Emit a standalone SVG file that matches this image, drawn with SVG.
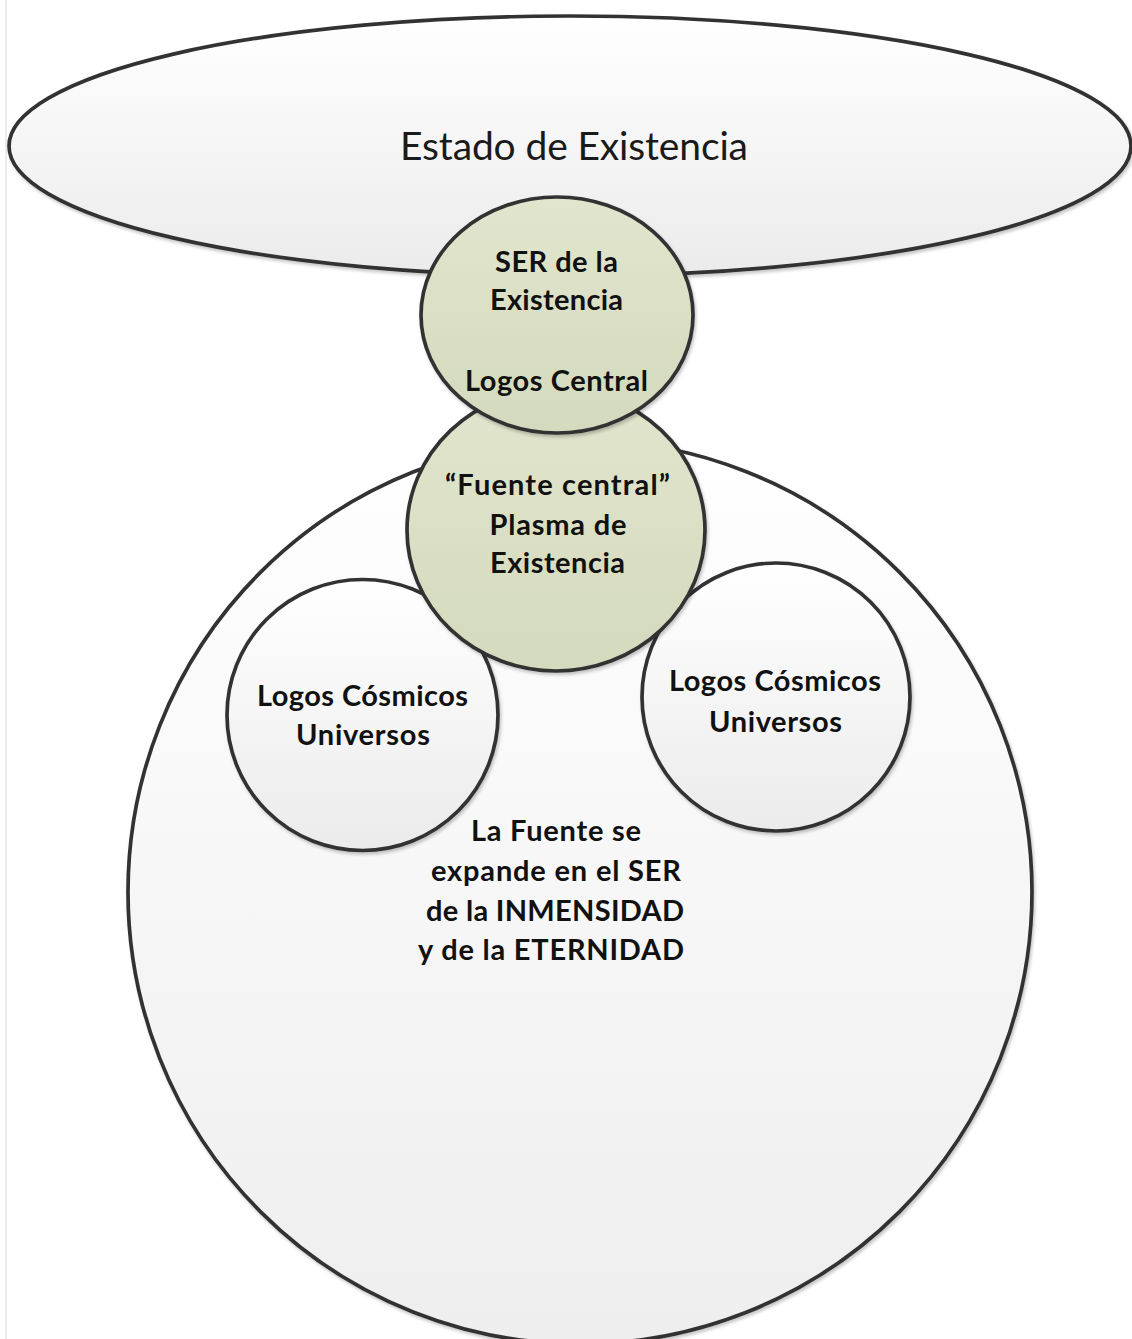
<svg xmlns="http://www.w3.org/2000/svg" width="1132" height="1339" viewBox="0 0 1132 1339">
<style>
.shape{stroke:#333333;stroke-width:3.7;filter:url(#sh)}
.t{font-family:Lato,"Open Sans","Liberation Sans",sans-serif;fill:#111111;text-anchor:middle}
.b{font-weight:bold;font-size:29px}
.r{font-weight:normal;font-size:39px;fill:#1a1a1a}
</style>
<defs>
<linearGradient id="gGray" x1="0" y1="0" x2="0" y2="1">
<stop offset="0" stop-color="#ffffff"/>
<stop offset="1" stop-color="#ebebeb"/>
</linearGradient>
<linearGradient id="gBig" x1="0" y1="0" x2="0" y2="1">
<stop offset="0" stop-color="#ffffff"/>
<stop offset="1" stop-color="#eeeeee"/>
</linearGradient>
<linearGradient id="gGreen" x1="0" y1="0" x2="0" y2="1">
<stop offset="0" stop-color="#e1e5cd"/>
<stop offset="1" stop-color="#d4dabd"/>
</linearGradient>
<filter id="sh" x="-5%" y="-5%" width="110%" height="110%">
<feDropShadow dx="1.5" dy="2.5" stdDeviation="1.5" flood-color="#000000" flood-opacity="0.22"/>
</filter>
</defs>
<rect x="0" y="0" width="1132" height="1339" fill="#ffffff"/>
<line x1="6" y1="0" x2="6" y2="1339" stroke="#ededed" stroke-width="2"/>

<g id="estado">
<ellipse class="shape" cx="570" cy="146" rx="561" ry="130" fill="url(#gGray)"/>
<text class="t r" x="574" y="160" textLength="348">Estado de Existencia</text>
</g>

<g id="inmensidad">
<circle class="shape" cx="580" cy="892" r="452" fill="url(#gBig)"/>
<text class="t b" x="556" y="841" textLength="170">La Fuente se</text>
<text class="t b" x="556" y="881" textLength="250">expande en el SER</text>
<text class="t b" x="555" y="921" textLength="258">de la INMENSIDAD</text>
<text class="t b" x="551" y="960" textLength="266">y de la ETERNIDAD</text>
</g>

<g id="logos-left">
<circle class="shape" cx="362.5" cy="715" r="135.5" fill="url(#gGray)"/>
<text class="t b" x="362.5" y="706" textLength="211">Logos Cósmicos</text>
<text class="t b" x="363" y="745" textLength="134">Universos</text>
</g>

<g id="logos-right">
<circle class="shape" cx="776" cy="697" r="134" fill="url(#gGray)"/>
<text class="t b" x="775" y="691" textLength="212">Logos Cósmicos</text>
<text class="t b" x="775.5" y="732" textLength="133">Universos</text>
</g>

<g id="fuente">
<ellipse class="shape" cx="556" cy="530" rx="149" ry="141" fill="url(#gGreen)"/>
<text class="t b" x="557.5" y="495" textLength="225">“Fuente central”</text>
<text class="t b" x="558" y="535" textLength="137">Plasma de</text>
<text class="t b" x="557.5" y="573" textLength="135">Existencia</text>
</g>

<g id="ser">
<ellipse class="shape" cx="557" cy="315" rx="136" ry="118" fill="url(#gGreen)"/>
<text class="t b" x="556.5" y="272" textLength="123">SER de la</text>
<text class="t b" x="556.5" y="310" textLength="133">Existencia</text>
<text class="t b" x="556.5" y="391" textLength="183">Logos Central</text>
</g>

<g id="connectors"></g>
</svg>
